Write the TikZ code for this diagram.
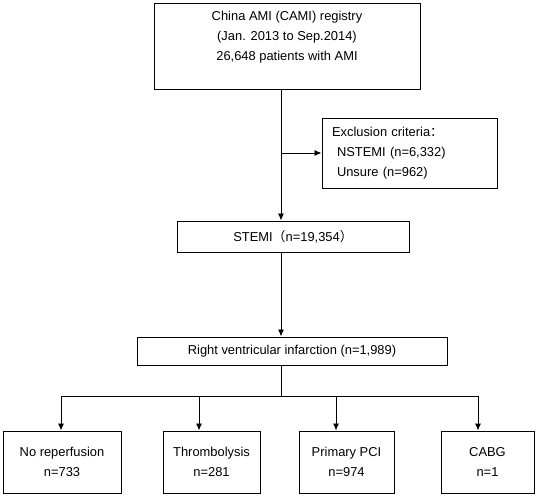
\documentclass[tikz,border=0pt]{standalone}
\usepackage{fontspec}
\setmainfont{Liberation Sans}
\newfontfamily\cjk{Noto Sans CJK SC}
\usetikzlibrary{arrows.meta, positioning}

\begin{document}
\begin{tikzpicture}	[x=1pt, y=-1pt,
			every node/.style={font=\fontsize{12.9}{20}\selectfont, align=center, draw, line width=1pt, rectangle, inner sep=0pt},
			link/.style={-{Latex[length=7pt,width=6pt]}, line width=0.9pt}
		]
			\useasboundingbox (0,0) rectangle (536,498);
			\coordinate (trunk) at (281,0);

			\node (registry) [minimum width=266pt, minimum height=86pt] at (287,46) {China AMI (CAMI) registry\\(Jan. 2013 to Sep.2014)\\26,648 patients with AMI\\ \mbox{}};
			\node (exclusion) [align=left, text width=155pt, inner xsep=10pt, minimum height=70pt] at (409.5,153) {Exclusion criteria{\cjk ：}\\\hspace*{5pt}NSTEMI (n=6,332)\\\hspace*{5pt}Unsure (n=962)};
			\node (stemi) [minimum width=232pt, minimum height=31pt] at (293,236.5) {STEMI{\cjk （}n=19,354{\cjk ）}};
			\node (rvi) [minimum width=310pt, minimum height=28pt] at (292,351) {Right ventricular infarction (n=1,989)};

			\node (none) [minimum width=118pt, minimum height=62pt] at (62,462) {No reperfusion\\n=733};
			\node (lysis) [minimum width=97pt, minimum height=62pt] at (211.5,462) {Thrombolysis\\n=281};
			\node (pci) [minimum width=95pt, minimum height=62pt] at (346.5,462) {Primary PCI\\n=974};
			\node (cabg) [minimum width=93pt, minimum height=62pt] at (487.5,462) {CABG\\n=1};

			\coordinate (dropA) at (61,396);
			\coordinate (dropB) at (199,396);
			\coordinate (dropC) at (336,396);
			\coordinate (dropD) at (478,396);

			\draw[link] (registry.south -| trunk) -- (stemi.north -| trunk);
			\draw[link] (exclusion.west -| trunk) -- (exclusion.west);
			\draw[link] (stemi.south -| trunk) -- (rvi.north -| trunk);
			\draw[line width=0.9pt] (rvi.south -| trunk) -- (dropA -| trunk);
			\draw[line width=0.9pt] (dropA) -- (dropD);
			\foreach \drop/\target in {dropA/none, dropB/lysis, dropC/pci, dropD/cabg}
				\draw[link] (\drop) -- (\drop |- \target.north);
		\end{tikzpicture}
\end{document}
